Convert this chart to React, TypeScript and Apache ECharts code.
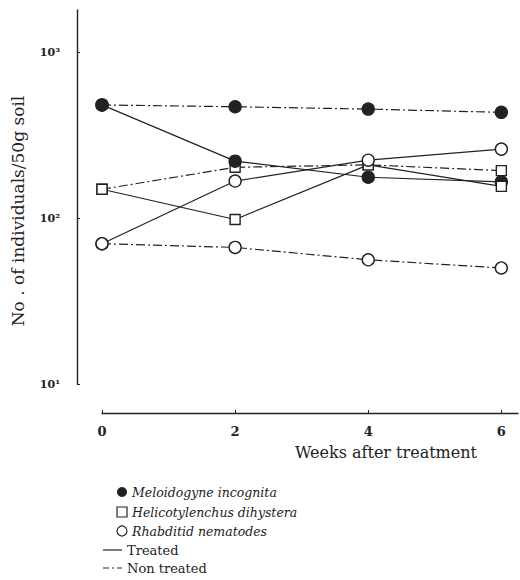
import React, { useEffect, useRef } from "react";
import * as echarts from "echarts";

const weeks = [0, 2, 4, 6];
const meloTreated = [480, 220, 176, 165];
const meloNon = [480, 468, 453, 433];
const heliTreated = [149, 98, 209, 155];
const heliNon = [149, 202, 209, 193];
const rhabTreated = [70, 167, 223, 260];
const rhabNon = [70, 66.5, 56, 50];
const yTickValues = [10, 100, 1000];
const xTickValues = [0, 2, 4, 6];
const supers: Record<number, string> = { 10: "10¹", 100: "10²", 1000: "10³" };

const legendSpecies = ["Meloidogyne incognita", "Helicotylenchus dihystera", "Rhabditid nematodes"];
const legendLines = ["Treated", "Non treated"];

const INK = "#222";
const SERIF = "DejaVu Serif";
const DASHDOT = [9, 3, 2, 3];

export default function App() {
  const ref = useRef<HTMLDivElement>(null);
  useEffect(() => {
    if (!ref.current) return;
    const chart = echarts.init(ref.current, null, { renderer: "svg" });
    const pts = (vals: number[]) => weeks.map((w, i) => [w, vals[i]]);
    const mk = (
      name: string,
      vals: number[],
      symbol: string,
      filled: boolean,
      dashed: boolean,
      size: number
    ) => ({
      name,
      type: "line",
      data: pts(vals),
      symbol,
      symbolSize: size,
      showAllSymbol: true,
      lineStyle: { color: INK, width: 1.2, type: dashed ? DASHDOT : "solid" },
      itemStyle: { color: filled ? INK : "#fff", borderColor: INK, borderWidth: 1.4, opacity: 1 },
      emphasis: { disabled: true },
      z: 2,
    });
    const legY = [492, 512, 531];
    chart.setOption({
      animation: false,
      backgroundColor: "#fff",
      grid: { left: 102, top: 10, width: 416, height: 374 },
      xAxis: {
        type: "value",
        min: 0,
        max: 6.25,
        offset: 29,
        axisLine: { onZero: false, lineStyle: { color: INK, width: 1.4 } },
        axisTick: { show: true, inside: true, length: 3, customValues: xTickValues, lineStyle: { color: INK } },
        axisLabel: {
          customValues: xTickValues,
          color: INK,
          fontFamily: SERIF,
          fontWeight: "bold",
          fontSize: 13,
          margin: 12,
        },
        splitLine: { show: false },
        name: "Weeks after treatment",
        nameLocation: "end",
        nameGap: 0,
        nameTextStyle: {
          fontFamily: SERIF,
          fontSize: 16,
          color: INK,
          align: "right",
          verticalAlign: "top",
          padding: [31, 41, 0, 0],
        },
      },
      yAxis: {
        type: "log",
        logBase: 10,
        min: 10,
        max: 1791,
        offset: 25,
        axisLine: { show: true, onZero: false, lineStyle: { color: INK, width: 1.4 } },
        axisTick: { show: true, inside: true, length: 3, customValues: yTickValues, lineStyle: { color: INK } },
        axisLabel: {
          customValues: yTickValues,
          formatter: (v: number) => supers[Math.round(v)] || "",
          color: INK,
          fontFamily: SERIF,
          fontWeight: "bold",
          fontSize: 11,
          margin: 17,
        },
        splitLine: { show: false },
        minorTick: { show: false },
      },
      graphic: [
        {
          type: "text",
          x: 18,
          y: 211,
          rotation: Math.PI / 2,
          style: {
            text: "No . of individuals/50g soil",
            fontFamily: SERIF,
            fontSize: 17,
            fill: INK,
            align: "center",
            verticalAlign: "middle",
          },
        },
        { type: "circle", shape: { cx: 122, cy: legY[0], r: 5 }, style: { fill: INK } },
        { type: "rect", shape: { x: 117, y: legY[1] - 5, width: 10, height: 10 }, style: { fill: "#fff", stroke: INK, lineWidth: 1.2 } },
        { type: "circle", shape: { cx: 122, cy: legY[2], r: 5 }, style: { fill: "#fff", stroke: INK, lineWidth: 1.2 } },
        ...legendSpecies.map((t, i) => ({
          type: "text",
          x: 132,
          y: legY[i],
          style: { text: t, fontFamily: SERIF, fontStyle: "italic", fontSize: 12.5, fill: INK, verticalAlign: "middle" },
        })),
        { type: "line", shape: { x1: 103, y1: 550, x2: 122, y2: 550 }, style: { stroke: INK, lineWidth: 1.2 } },
        { type: "line", shape: { x1: 103, y1: 568, x2: 122, y2: 568 }, style: { stroke: INK, lineWidth: 1.2, lineDash: [6, 3, 2, 3] } },
        ...legendLines.map((t, i) => ({
          type: "text",
          x: 127,
          y: 550 + i * 18,
          style: { text: t, fontFamily: SERIF, fontSize: 13, fill: INK, verticalAlign: "middle" },
        })),
      ],
      series: [
        mk("Meloidogyne incognita — Non treated", meloNon, "circle", true, true, 12),
        mk("Helicotylenchus dihystera — Non treated", heliNon, "rect", false, true, 10),
        mk("Rhabditid nematodes — Non treated", rhabNon, "circle", false, true, 12),
        mk("Meloidogyne incognita — Treated", meloTreated, "circle", true, false, 12),
        mk("Helicotylenchus dihystera — Treated", heliTreated, "rect", false, false, 10),
        mk("Rhabditid nematodes — Treated", rhabTreated, "circle", false, false, 12),
      ],
    });
    return () => chart.dispose();
  }, []);
  return <div ref={ref} style={{ width: 520, height: 580, position: "fixed", left: 0, top: 0 }} />;
}
